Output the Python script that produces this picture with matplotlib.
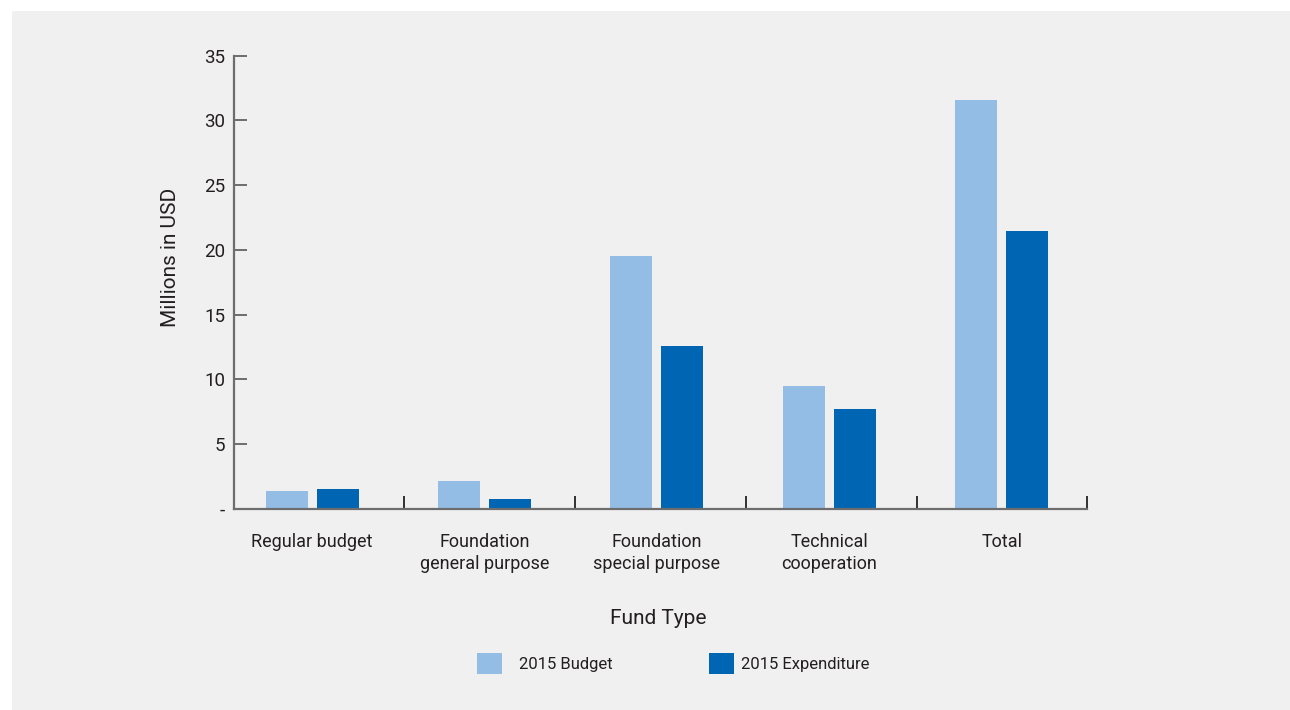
import matplotlib
matplotlib.use("Agg")
import matplotlib.pyplot as plt
from matplotlib.patches import Rectangle, Patch
from matplotlib import font_manager
import numpy as np

categories = ["Regular budget", "Foundation\ngeneral purpose", "Foundation\nspecial purpose",
              "Technical\ncooperation", "Total"]
budget_2015 = [1.4, 2.2, 19.5, 9.5, 31.6]
expenditure_2015 = [1.55, 0.8, 12.6, 7.7, 21.5]
series_names = ["2015 Budget", "2015 Expenditure"]
y_ticks = [0, 5, 10, 15, 20, 25, 30, 35]
y_tick_labels = ["-", "5", "10", "15", "20", "25", "30", "35"]

avail = {f.name for f in font_manager.fontManager.ttflist}
fam = [f for f in ["Liberation Sans Narrow", "Roboto", "DejaVu Sans"] if f in avail]
plt.rcParams["font.family"] = fam

TEXT = "#231f20"
LIGHT = "#94bde5"
DARK = "#0066b3"
AX = "#6d6d6d"

W, H = 1290, 710
fig = plt.figure(figsize=(W / 100, H / 100), dpi=100, facecolor="white")
fig.add_artist(Rectangle((12 / W, 0), 1 - 12 / W, 1 - 11 / H, transform=fig.transFigure,
                         facecolor="#f0f0f0", edgecolor="none", zorder=-10))

left, right = 234 / W, 1087 / W
bottom, top = 1 - 509 / H, 1 - 55.7 / H
ax = fig.add_axes([left, bottom, right - left, top - bottom])
ax.set_facecolor("none")

x = np.arange(len(categories))
bw = 0.244
off = 0.148
ax.bar(x - off, budget_2015, bw, color=LIGHT, label=series_names[0], zorder=2)
ax.bar(x + off, expenditure_2015, bw, color=DARK, label=series_names[1], zorder=2)

ax.set_xlim(-0.453, 4.495)
ax.set_ylim(0, 35)

for s in ["top", "right"]:
    ax.spines[s].set_visible(False)
for s in ["left", "bottom"]:
    ax.spines[s].set_color(AX)
    ax.spines[s].set_linewidth(1.6)
    ax.spines[s].set_zorder(3)

ax.set_yticks(y_ticks)
ax.set_yticklabels(y_tick_labels)
ax.tick_params(axis="y", direction="in", length=9.4, width=1.4, color=AX,
               labelsize=13.5, labelcolor=TEXT, pad=6.5)

ax.set_xticks(x)
ax.set_xticklabels(categories, linespacing=1.3)
ax.tick_params(axis="x", which="major", length=0, labelsize=13, labelcolor=TEXT, pad=17)
ax.set_xticks([0.533, 1.525, 2.517, 3.509, 4.495], minor=True)
ax.tick_params(axis="x", which="minor", direction="in", length=9.5, width=1.3, color="#222222")

fig.text(171 / W, 1 - 257 / H, "Millions in USD", rotation=90, ha="center", va="center",
         fontsize=15, color=TEXT)
fig.text(658 / W, 1 - 618 / H, "Fund Type", ha="center", va="center", fontsize=15, color=TEXT)

colors = [LIGHT, DARK]
anchors_x = [477, 709]
for name, c, ax_x in zip(series_names, colors, anchors_x):
    leg = fig.legend([Patch(facecolor=c, edgecolor="none")], [name], loc="center left",
                     bbox_to_anchor=(ax_x / W, 1 - 663.5 / H), frameon=False, fontsize=12,
                     handlelength=1.5, handleheight=1.5, handletextpad=1.0 if c == LIGHT else 0.4,
                     borderpad=0, borderaxespad=0, labelcolor=TEXT)

fig.savefig("out.png", dpi=100, facecolor="white")
